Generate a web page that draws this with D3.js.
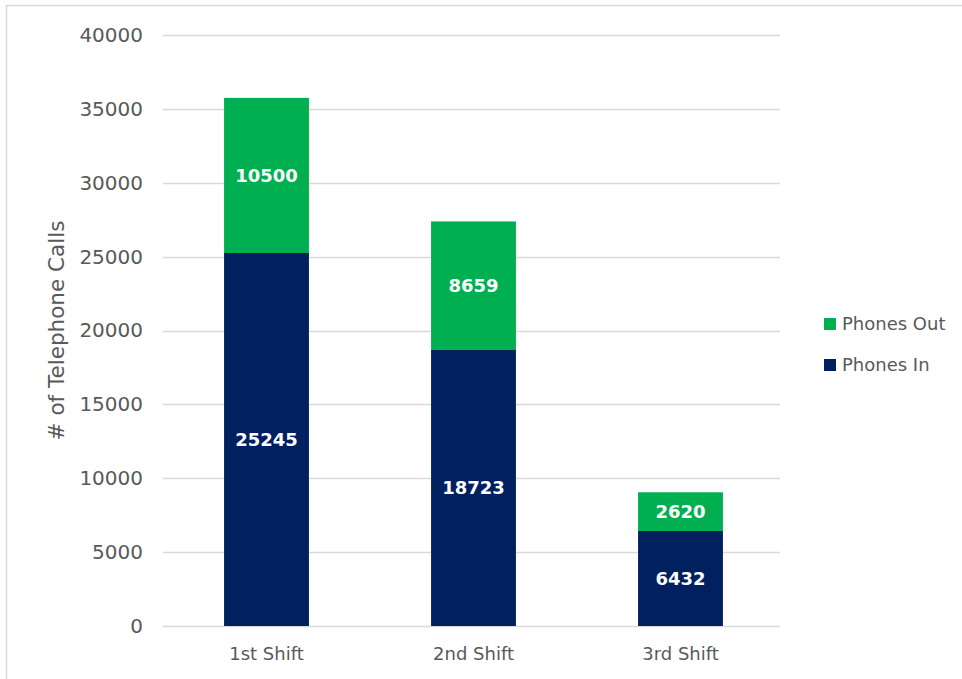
<!DOCTYPE html>
<html>
<head>
<meta charset="utf-8">
<script src="https://cdn.jsdelivr.net/npm/d3@7"></script>
<style>
  html, body { margin: 0; padding: 0; background: #fff; }
  svg { display: block; }
  text { font-family: "DejaVu Sans", sans-serif; }
</style>
</head>
<body>
<svg id="chart" width="962" height="679"></svg>
<script>
const categories = ["1st Shift", "2nd Shift", "3rd Shift"];
const phonesIn = [25245, 18723, 6432];
const phonesOut = [10500, 8659, 2620];
const seriesNames = ["Phones In", "Phones Out"];
const seriesColors = ["#002060", "#00B050"];
const yTicks = [0, 5000, 10000, 15000, 20000, 25000, 30000, 35000, 40000];
const yTitle = "# of Telephone Calls";

const FONT = "'DejaVu Sans', sans-serif";
const svg = d3.select("#chart");
const W = 962, H = 679;

// frame border (chart area border, clipped at top/right)
svg.append("rect")
  .attr("x", 6.5).attr("y", 5.5)
  .attr("width", W + 10).attr("height", H + 10)
  .attr("fill", "none").attr("stroke", "#d9d9d9").attr("stroke-width", 1.5);

const plot = { left: 163, right: 784, top: 35, bottom: 626 };

const x = d3.scaleBand().domain(categories).range([plot.left, plot.right]).paddingInner(0.59).paddingOuter(0.295);
const y = d3.scaleLinear().domain([0, 40000]).range([plot.bottom, plot.top]);

// gridlines
svg.append("g").selectAll("line").data(yTicks).join("line")
  .attr("x1", plot.left).attr("x2", plot.right - 4)
  .attr("y1", d => Math.round(y(d)) + 0.5).attr("y2", d => Math.round(y(d)) + 0.5)
  .attr("stroke", "#d9d9d9").attr("stroke-width", 1.3);

// y axis labels
const yAxis = d3.axisLeft(y).tickValues(yTicks).tickSize(0).tickPadding(20).tickFormat(d3.format("d"));
const gy = svg.append("g").attr("transform", `translate(${plot.left},0)`).call(yAxis);
gy.select(".domain").remove();
gy.selectAll("text").attr("font-size", 20).attr("fill", "#595959").style("font-family", FONT);

// y title
svg.append("text")
  .attr("transform", `translate(64,${(plot.top + plot.bottom) / 2}) rotate(-90)`)
  .attr("text-anchor", "middle")
  .attr("font-size", 21.5).attr("fill", "#595959")
  .text(yTitle);

// stacked data
const rows = categories.map((c, i) => ({ cat: c, "Phones In": phonesIn[i], "Phones Out": phonesOut[i] }));
const stack = d3.stack().keys(seriesNames)(rows);

const layers = svg.append("g").selectAll("g").data(stack).join("g")
  .attr("fill", (d, i) => seriesColors[i]);

layers.selectAll("rect").data(d => d).join("rect")
  .attr("x", d => x(d.data.cat))
  .attr("width", x.bandwidth())
  .attr("y", d => y(d[1]))
  .attr("height", d => y(d[0]) - y(d[1]));

layers.selectAll("text").data(d => d).join("text")
  .attr("x", d => x(d.data.cat) + x.bandwidth() / 2)
  .attr("y", d => (y(d[0]) + y(d[1])) / 2)
  .attr("dy", "0.36em")
  .attr("text-anchor", "middle")
  .attr("font-size", 18).attr("font-weight", "bold").attr("fill", "#ffffff")
  .text(d => d[1] - d[0]);

// x axis labels
const xAxis = d3.axisBottom(x).tickSize(0).tickPadding(21);
const gx = svg.append("g").attr("transform", `translate(0,${plot.bottom})`).call(xAxis);
gx.select(".domain").remove();
gx.selectAll("text").attr("font-size", 18).attr("fill", "#595959").style("font-family", FONT);

// legend (Phones Out on top)
const legendItems = [
  { name: seriesNames[1], color: seriesColors[1] },
  { name: seriesNames[0], color: seriesColors[0] }
];
const lg = svg.append("g").selectAll("g").data(legendItems).join("g")
  .attr("transform", (d, i) => `translate(824,${324 + i * 41})`);
lg.append("rect").attr("x", 0).attr("y", -6).attr("width", 12).attr("height", 12).attr("fill", d => d.color);
lg.append("text").attr("x", 18).attr("dy", "0.36em").attr("font-size", 18).attr("fill", "#595959").text(d => d.name);
</script>
</body>
</html>
